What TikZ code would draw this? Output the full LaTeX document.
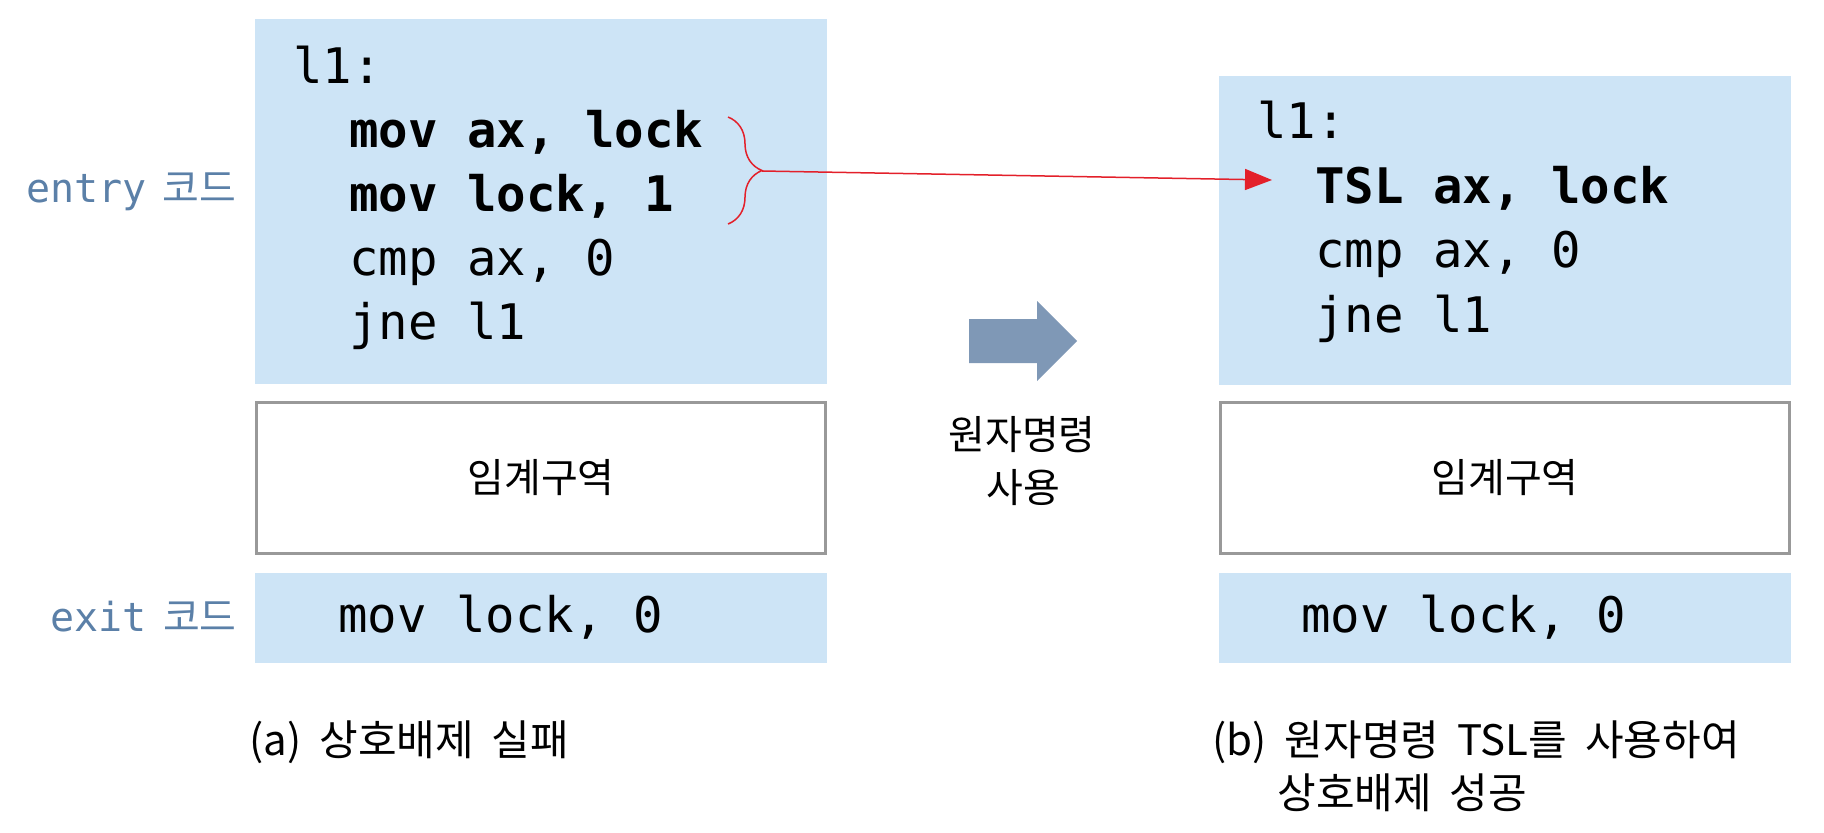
\documentclass[tikz,border=0pt]{standalone}
\usepackage{fontspec}
\setmainfont{Noto Sans CJK KR}
\setmonofont{DejaVu Sans Mono}
\usetikzlibrary{arrows.meta,decorations.pathreplacing}
\definecolor{codebg}{HTML}{CDE4F6}
\definecolor{framegray}{HTML}{999999}
\definecolor{labelblue}{HTML}{5B80A8}
\definecolor{bigarrow}{HTML}{7F98B6}
\definecolor{linkred}{HTML}{E3202A}
\newcommand\widegap{\hspace{8pt}}
\newcommand\capgap{\hspace{9pt}}

\begin{document}
\begin{tikzpicture}[x=0.5pt, y=-0.5pt,
  codebox/.style={fill=codebg, inner sep=0pt, outer sep=0pt},
  critbox/.style={draw=framegray, line width=1.5pt, fill=white, inner sep=0pt, font=\fontsize{20}{24}\selectfont},
  code/.style={anchor=base west, inner sep=0pt, font=\ttfamily\fontsize{24.5}{28}\selectfont},
  boldcode/.style={code, font=\ttfamily\bfseries\fontsize{24.5}{28}\selectfont},
  sidelabel/.style={anchor=base east, inner sep=0pt, text=labelblue, font=\fontsize{20}{24}\selectfont},
  midlabel/.style={anchor=base, inner sep=0pt, font=\fontsize{20}{24}\selectfont},
  caption/.style={anchor=base west, inner sep=0pt, font=\fontsize{21}{24}\selectfont}]
\useasboundingbox (0,0) rectangle (1824,832);
\node[codebox, minimum width=286pt, minimum height=182.5pt] (leftentry) at (541,201.5) {};
\node[critbox, minimum width=284.5pt, minimum height=75.5pt] (leftcrit) at (541,478) {임계구역};
\node[codebox, minimum width=286pt, minimum height=45pt] (leftexit) at (541,618) {};
\node[codebox, minimum width=286pt, minimum height=154.5pt] (rightentry) at (1505,230.5) {};
\node[critbox, minimum width=284.5pt, minimum height=75.5pt] (rightcrit) at (1505,478) {임계구역};
\node[codebox, minimum width=286pt, minimum height=45pt] (rightexit) at (1505,618) {};
\node[code] (lefthead) at (293,83) {l1:};
\node[boldcode] (leftmovax) at (349,147) {mov ax, lock};
\node[boldcode] (leftmovlock) at (349,211) {mov lock, 1};
\node[code] (leftcmp) at (349,275) {cmp ax, 0};
\node[code] (leftjne) at (349,339) {jne l1};
\node[code] (leftexitcode) at (338,632) {mov lock, 0};
\node[code] (righthead) at (1257,138) {l1:};
\node[boldcode] (righttsl) at (1315,203) {TSL ax, lock};
\node[code] (rightcmp) at (1315,267) {cmp ax, 0};
\node[code] (rightjne) at (1315,332) {jne l1};
\node[code] (rightexitcode) at (1301,632) {mov lock, 0};
\node[sidelabel] (entrylabel) at (237,202) {{\ttfamily entry}\widegap 코드};
\node[sidelabel] (exitlabel) at (237,631) {{\ttfamily exit}\widegap 코드};
\fill[bigarrow] (969,319) -- (1037,319) -- (1037,301) -- (1077,341) -- (1037,381) -- (1037,363) -- (969,363) -- cycle;
\node[midlabel] (atomtop) at (1022,449) {원자명령};
\node[midlabel] (atombottom) at (1023,502) {사용};
\draw[linkred, line width=0.75pt, decorate, decoration={brace, amplitude=17pt}] (728,117) -- (728,224);
\coordinate (bracetip) at (762,171);
\coordinate (tsltip) at (1272,180);
\draw[linkred, line width=0.75pt, -{Triangle[length=13.5pt, width=10.5pt]}] (bracetip) -- (tsltip);
\node[caption] (capa) at (249,755) {(a)\capgap 상호배제\capgap 실패};
\node[caption] (capb) at (1212,755) {(b)\capgap 원자명령\capgap TSL를\capgap 사용하여};
\node[caption] (capbb) at (1277,808) {상호배제\capgap 성공};
\end{tikzpicture}
\end{document}
